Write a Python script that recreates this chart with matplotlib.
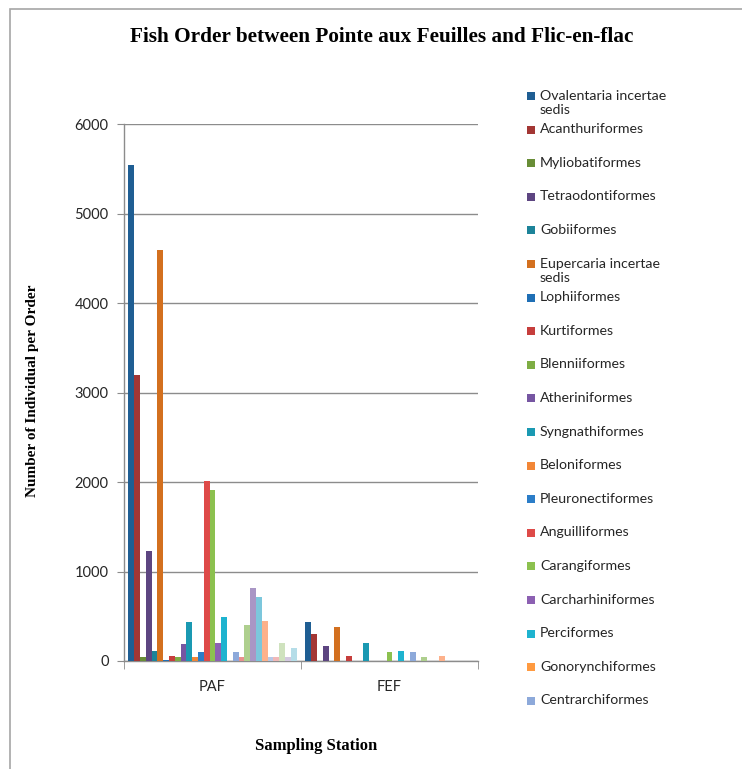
import matplotlib
matplotlib.use("Agg")
import matplotlib.pyplot as plt
from matplotlib.patches import Rectangle
import numpy as np

# Sampling stations
stations = ["PAF", "FEF"]

# Orders shown in the legend (first 19 series)
orders = [
    "Ovalentaria incertae\nsedis", "Acanthuriformes", "Myliobatiformes",
    "Tetraodontiformes", "Gobiiformes", "Eupercaria incertae\nsedis",
    "Lophiiformes", "Kurtiformes", "Blenniiformes", "Atheriniformes",
    "Syngnathiformes", "Beloniformes", "Pleuronectiformes", "Anguilliformes",
    "Carangiformes", "Carcharhiniformes", "Perciformes", "Gonorynchiformes",
    "Centrarchiformes",
]

# Individuals per order at each station (29 series; the last 10 are not in the legend)
paf_counts = [5540, 3190, 50, 1230, 110, 4590, 10, 60, 50, 190,
              440, 40, 95, 2010, 1910, 200, 490, 0, 95,
              40, 400, 815, 710, 450, 40, 40, 200, 40, 145]
fef_counts = [440, 300, 0, 170, 0, 375, 0, 55, 0, 0,
              200, 0, 0, 0, 95, 0, 115, 0, 100,
              0, 50, 0, 0, 60, 0, 0, 0, 0, 0]

colors = [
    "#1F5E93", "#A33634", "#688D36", "#5D4581", "#1C8399", "#D3701F",
    "#1F6FB5", "#C63E3C", "#7EAD44", "#7656A2", "#1A99B2", "#F28636",
    "#2B7DC8", "#DE4A48", "#8CC14F", "#8C60B2", "#1EB3CF", "#FF9A40",
    "#8DA9DA", "#E8908E", "#AECF8E", "#A996C5", "#7CC7DC", "#FDB18B",
    "#B8C8E6", "#F1B8B7", "#CFE2BE", "#D3C8E0", "#B5DDE8",
]

W, H = 742, 769
fig = plt.figure(figsize=(W / 100, H / 100), dpi=100)
fig.patch.set_facecolor("white")

# outer chart border
fig.add_artist(Rectangle((10 / W, -0.1), 1.2, 1 - 9 / H + 0.1,
                         transform=fig.transFigure, fill=False,
                         edgecolor="#A6A6A6", linewidth=1.2))

ax = fig.add_axes([124 / W, 1 - 661 / H, (478 - 124) / W, (661 - 124) / H])

n = len(paf_counts)
gap = 1.5
w = 1.0 / (n + gap)
cats = np.arange(len(stations))
values = np.array([paf_counts, fef_counts])
bars = []
for i in range(n):
    xs = cats - 0.5 + gap * w / 2 + (i + 0.5) * w
    b = ax.bar(xs, values[:, i], width=w, color=colors[i], linewidth=0, zorder=3)
    bars.append(b)

ax.set_xlim(-0.5, len(stations) - 0.5)
ax.set_ylim(0, 6000)
ax.yaxis.grid(True, color="#8C8C8C", linewidth=1.0, zorder=0)
ax.set_axisbelow(True)

tick_font = "Lato"
text_color = "#262626"
ax.set_yticks(np.arange(0, 6001, 1000))
ax.set_yticklabels([str(v) for v in range(0, 6001, 1000)],
                   fontsize=10.5, family=tick_font, color=text_color)
ax.tick_params(axis="y", length=5, color="#8C8C8C", pad=6)

# category labels centred, ticks at category boundaries
ax.set_xticks(cats)
ax.set_xticklabels(stations, fontsize=10.5, family=tick_font, color=text_color)
ax.tick_params(axis="x", length=0, pad=14)
ax.set_xticks(np.arange(-0.5, len(stations), 1.0), minor=True)
ax.tick_params(axis="x", which="minor", length=6, color="#8C8C8C")

for side in ["top", "right"]:
    ax.spines[side].set_visible(False)
for side in ["left", "bottom"]:
    ax.spines[side].set_color("#8C8C8C")
    ax.spines[side].set_linewidth(1.0)

serif = "Liberation Serif"
fig.text(382 / W, 1 - 37 / H, "Fish Order between Pointe aux Feuilles and Flic-en-flac",
         ha="center", va="center", fontsize=15.3, fontweight="bold", family=serif)
fig.text(33 / W, 1 - 391 / H, "Number of Individual per Order", rotation=90,
         ha="center", va="center", fontsize=11, fontweight="bold", family=serif)
fig.text(316 / W, 1 - 746 / H, "Sampling Station",
         ha="center", va="center", fontsize=12, fontweight="bold", family=serif)

# legend column
y0 = 96
step = 33.6
for i, name in enumerate(orders):
    yc = y0 + i * step
    fig.add_artist(Rectangle((527 / W, 1 - (yc + 4) / H), 8 / W, 8 / H,
                             transform=fig.transFigure,
                             facecolor=bars[i].patches[0].get_facecolor(),
                             edgecolor="none"))
    fig.text(540 / W, 1 - (yc - 6.5) / H, name, ha="left", va="top",
             fontsize=10.2, family=tick_font, color=text_color, linespacing=1.3)

fig.savefig("out.png", dpi=100, facecolor="white")
